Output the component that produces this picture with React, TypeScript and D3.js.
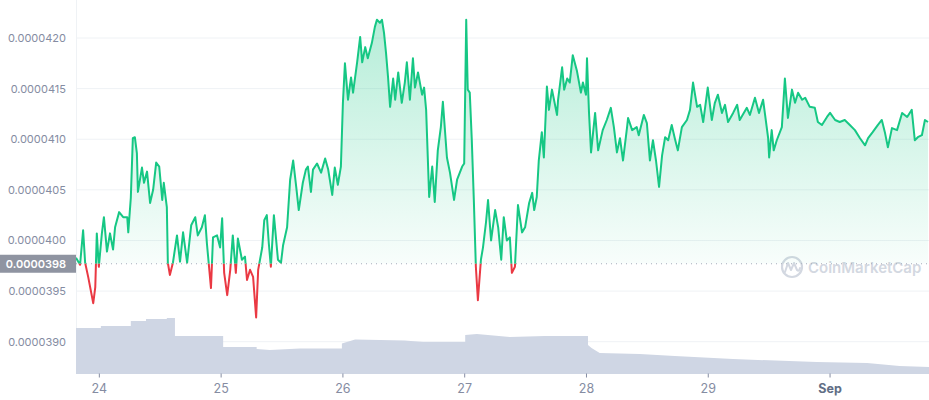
import React from 'react';
import * as d3 from 'd3';

// Hours since the "24" tick
const HOURS = [
  -4.6, -3.8, -3.2, -2.8, -2.2, -1.2, -0.8, -0.5, -0.1, 0.5, 0.9, 1.5, 2.1, 2.7, 3.1, 3.9, 4.7, 5.5, 5.7, 6.2,
  6.6, 7.0, 7.4, 7.6, 8.4, 8.8, 9.4, 10.0, 10.6, 11.2, 11.8, 12.4, 12.7, 13.3, 13.5, 13.9, 14.5, 15.3, 15.9, 16.5,
  17.3, 18.1, 18.9, 19.4, 20.2, 20.8, 21.2, 22.0, 22.4, 23.2, 23.8, 24.2, 24.6, 25.2, 25.8, 26.3, 26.9, 27.3, 28.1, 28.7,
  29.1, 29.7, 30.3, 30.9, 31.3, 32.1, 32.5, 33.0, 33.4, 33.8, 34.4, 35.2, 35.8, 36.2, 37.0, 37.6, 38.2, 38.8, 39.3, 40.1,
  40.7, 41.1, 41.7, 42.1, 42.9, 43.7, 44.5, 45.1, 45.9, 46.4, 47.0, 47.6, 48.0, 48.4, 49.0, 49.6, 50.0, 50.8, 51.4, 51.8,
  52.4, 52.9, 53.7, 54.3, 54.7, 55.3, 55.7, 56.1, 56.5, 56.9, 57.3, 57.9, 58.3, 58.9, 59.6, 60.2, 60.6, 61.2, 61.8, 62.2,
  62.8, 63.6, 64.0, 64.4, 65.0, 65.6, 66.1, 66.7, 67.3, 67.7, 68.5, 69.1, 69.9, 70.5, 71.5, 71.9, 72.3, 72.6, 73.0, 73.4,
  73.8, 74.2, 74.6, 75.2, 75.6, 76.2, 76.6, 77.2, 78.0, 78.6, 79.2, 79.7, 80.3, 80.9, 81.3, 81.9, 82.5, 83.3, 83.9, 84.7,
  85.3, 85.7, 86.2, 86.6, 87.2, 87.6, 88.2, 88.6, 89.2, 90.2, 90.4, 91.2, 91.6, 92.2, 92.7, 93.3, 94.1, 94.9, 95.3, 95.9,
  96.1, 96.5, 96.9, 97.7, 98.3, 99.2, 100.0, 100.8, 101.4, 102.0, 102.6, 103.2, 104.0, 104.2, 105.0, 105.9, 106.3, 107.3, 107.9, 108.5,
  109.1, 109.7, 110.3, 110.9, 111.5, 112.1, 112.8, 113.4, 114.0, 114.8, 115.8, 116.4, 117.0, 117.8, 118.4, 119.0, 119.9, 120.7, 121.3, 121.9,
  122.7, 123.3, 123.9, 124.9, 125.7, 126.2, 127.6, 128.2, 129.2, 130.0, 130.8, 131.2, 131.8, 132.0, 132.5, 132.9, 133.5, 134.5, 135.1, 135.7,
  136.5, 137.1, 137.7, 138.5, 139.1, 140.0, 141.0, 141.6, 142.4, 143.4, 144.0, 145.0, 145.9, 146.9, 147.9, 148.9, 149.9, 150.9, 151.5, 152.4,
  153.4, 154.2, 154.8, 155.4, 156.2, 157.2, 158.2, 159.2, 160.1, 160.7, 161.3, 162.1, 162.7, 163.3,
];

const PRICES = [
  398.3e-7, 397.6e-7, 401.0e-7, 397.8e-7, 396.4e-7, 393.8e-7, 395.4e-7, 400.7e-7, 397.4e-7, 400.7e-7, 402.3e-7, 398.9e-7, 400.7e-7, 399.1e-7, 401.3e-7, 402.8e-7, 402.3e-7, 402.3e-7, 400.8e-7, 404.2e-7,
  410.1e-7, 410.2e-7, 408.6e-7, 404.8e-7, 407.2e-7, 405.7e-7, 406.8e-7, 403.7e-7, 405.0e-7, 407.7e-7, 407.3e-7, 404.0e-7, 405.7e-7, 403.3e-7, 397.8e-7, 396.6e-7, 397.8e-7, 400.5e-7, 397.9e-7, 400.8e-7,
  397.8e-7, 401.5e-7, 402.3e-7, 400.5e-7, 401.3e-7, 402.5e-7, 399.7e-7, 395.3e-7, 400.3e-7, 400.5e-7, 399.3e-7, 402.2e-7, 396.8e-7, 394.6e-7, 397.1e-7, 400.5e-7, 396.8e-7, 400.2e-7, 398.1e-7, 398.4e-7,
  396.1e-7, 397.1e-7, 396.4e-7, 392.4e-7, 397.1e-7, 399.3e-7, 402.0e-7, 402.5e-7, 399.7e-7, 397.4e-7, 402.5e-7, 398.1e-7, 397.8e-7, 399.5e-7, 401.3e-7, 406.0e-7, 407.9e-7, 405.3e-7, 403.0e-7, 405.7e-7,
  407.0e-7, 407.3e-7, 404.8e-7, 407.0e-7, 407.6e-7, 406.7e-7, 408.1e-7, 407.0e-7, 404.5e-7, 407.2e-7, 405.5e-7, 407.3e-7, 413.6e-7, 417.5e-7, 413.9e-7, 416.1e-7, 414.6e-7, 417.6e-7, 420.1e-7, 417.6e-7,
  419.1e-7, 418.0e-7, 419.5e-7, 421.1e-7, 421.8e-7, 421.5e-7, 421.8e-7, 420.5e-7, 418.5e-7, 416.1e-7, 413.2e-7, 416.0e-7, 413.9e-7, 416.6e-7, 413.6e-7, 415.6e-7, 417.6e-7, 413.9e-7, 418.0e-7, 415.1e-7,
  416.6e-7, 414.4e-7, 415.1e-7, 412.9e-7, 404.3e-7, 407.3e-7, 403.8e-7, 408.9e-7, 411.2e-7, 413.7e-7, 408.2e-7, 406.7e-7, 404.0e-7, 406.0e-7, 407.3e-7, 407.6e-7, 421.8e-7, 414.9e-7, 414.6e-7, 409.9e-7,
  404.0e-7, 397.4e-7, 394.1e-7, 398.1e-7, 399.3e-7, 401.8e-7, 404.0e-7, 400.0e-7, 403.0e-7, 401.3e-7, 398.1e-7, 402.3e-7, 400.0e-7, 400.3e-7, 396.8e-7, 397.4e-7, 403.5e-7, 400.8e-7, 401.3e-7, 403.7e-7,
  404.7e-7, 403.0e-7, 404.3e-7, 407.9e-7, 410.7e-7, 408.2e-7, 415.2e-7, 412.9e-7, 414.9e-7, 412.4e-7, 413.9e-7, 417.1e-7, 414.9e-7, 416.0e-7, 415.6e-7, 418.3e-7, 416.8e-7, 414.6e-7, 415.6e-7, 414.4e-7,
  418.0e-7, 412.6e-7, 408.7e-7, 412.6e-7, 408.9e-7, 410.9e-7, 411.9e-7, 413.1e-7, 411.2e-7, 408.7e-7, 410.1e-7, 407.9e-7, 411.2e-7, 412.1e-7, 410.9e-7, 411.2e-7, 410.4e-7, 412.4e-7, 411.6e-7, 407.9e-7,
  409.9e-7, 407.9e-7, 405.3e-7, 408.4e-7, 410.2e-7, 409.9e-7, 411.4e-7, 410.1e-7, 408.9e-7, 411.2e-7, 411.9e-7, 412.9e-7, 415.6e-7, 413.2e-7, 413.4e-7, 411.7e-7, 415.1e-7, 411.9e-7, 413.6e-7, 414.4e-7,
  412.6e-7, 413.4e-7, 411.7e-7, 412.6e-7, 413.4e-7, 411.9e-7, 413.1e-7, 412.4e-7, 414.1e-7, 412.6e-7, 413.9e-7, 412.4e-7, 410.1e-7, 408.2e-7, 410.9e-7, 408.9e-7, 409.9e-7, 411.2e-7, 416.0e-7, 412.1e-7,
  414.9e-7, 413.6e-7, 414.6e-7, 413.9e-7, 414.1e-7, 413.2e-7, 413.1e-7, 411.7e-7, 411.4e-7, 412.2e-7, 412.6e-7, 411.9e-7, 411.7e-7, 411.9e-7, 411.4e-7, 410.9e-7, 410.1e-7, 409.4e-7, 410.1e-7, 410.7e-7,
  411.4e-7, 411.9e-7, 410.7e-7, 409.2e-7, 411.1e-7, 410.9e-7, 412.6e-7, 412.2e-7, 412.9e-7, 409.9e-7, 410.2e-7, 410.4e-7, 411.9e-7, 411.7e-7,
];

// Volume (millions), hours since the "24" tick
const VOL_HOURS = [
  -4.6, 0.3, 0.3, 6.2, 6.2, 9.2, 9.2, 13.3, 13.3, 14.9, 14.9, 24.4, 24.4, 31.0, 31.0, 33.6, 39.5, 47.8, 47.8, 50.4,
  60.2, 63.8, 72.1, 72.1, 74.4, 80.9, 87.8, 96.3, 96.3, 97.0, 98.6, 106.5, 113.4, 124.9, 141.4, 151.3, 157.7, 163.5,
];
const VOLUMES = [
  227, 227, 238, 238, 263, 263, 272, 272, 277, 277, 187, 187, 132, 132, 122, 117, 125, 125, 150, 170,
  165, 158, 158, 192, 197, 182, 187, 187, 142, 127, 102, 97, 87, 72, 58, 52, 37, 33,
];

const Y_TICKS = [0.000039, 0.0000395, 0.00004, 0.0000405, 0.000041, 0.0000415, 0.000042];
const X_TICK_HOURS = [0, 24, 48, 72, 96, 120, 144];
const X_TICK_LABELS = ['24', '25', '26', '27', '28', '29', 'Sep'];
const BASELINE = 0.00003977;

const GREEN = '#16c784';
const RED = '#ea3943';
const FONT = 'Inter, "Noto Sans", sans-serif';

export default function App() {
  const W = 929;
  const H = 400;
  const left = 76;
  const right = 929;
  const axisY = 373.5;

  const x = d3.scaleLinear().domain([-4.6, 163.5]).range([left, right]);
  const y = d3.scaleLinear().domain([0.000039, 0.000042]).range([341.7, 38]);
  const yv = d3.scaleLinear().domain([0, 300]).range([axisY, axisY - 60]);

  const data = HOURS.map((h, i) => ({ h, p: PRICES[i] }));
  const vol = VOL_HOURS.map((h, i) => ({ h, v: VOLUMES[i] }));
  const baseY = y(BASELINE);

  const line = d3.line<{ h: number; p: number }>().x((d) => x(d.h)).y((d) => y(d.p));
  const area = d3
    .area<{ h: number; p: number }>()
    .x((d) => x(d.h))
    .y0(baseY)
    .y1((d) => y(d.p));
  const volArea = d3
    .area<{ h: number; v: number }>()
    .x((d) => x(d.h))
    .y0(axisY)
    .y1((d) => yv(d.v));

  const linePath = line(data) || '';
  const areaPath = area(data) || '';

  return (
    <svg
      width={W}
      height={H}
      style={{ position: 'absolute', left: 0, top: 0, background: '#fff' }}
      fontFamily={FONT}
    >
      <defs>
        <linearGradient id="gFill" gradientUnits="userSpaceOnUse" x1="0" x2="0" y1={y(0.0000422)} y2={baseY}>
          <stop offset="0" stopColor={GREEN} stopOpacity={0.32} />
          <stop offset="1" stopColor={GREEN} stopOpacity={0.03} />
        </linearGradient>
        <clipPath id="above">
          <rect x={left} y={0} width={right - left} height={baseY} />
        </clipPath>
        <clipPath id="below">
          <rect x={left} y={baseY} width={right - left} height={H - baseY} />
        </clipPath>
      </defs>

      {/* gridlines */}
      {Y_TICKS.map((t) => (
        <line key={t} x1={left} x2={right} y1={y(t)} y2={y(t)} stroke="#eff2f5" strokeWidth={1} />
      ))}
      {/* left axis line */}
      <line x1={left + 0.5} x2={left + 0.5} y1={0} y2={axisY} stroke="#eff2f5" strokeWidth={1} />

      {/* y labels */}
      {Y_TICKS.map((t) => (
        <text
          key={'l' + t}
          x={66}
          y={y(t)}
          textAnchor="end"
          dominantBaseline="central"
          fontSize={11}
          fill="#858ca2"
        >
          {t.toFixed(7)}
        </text>
      ))}

      {/* watermark */}
      <g>
        <circle cx={792} cy={267} r={10} fill="none" stroke="#d3d8e1" strokeWidth={2.2} />
        <path
          d="M785,272 L788,263 L791,270 L794,263 L797,270 Q799,272 800,268"
          fill="none"
          stroke="#d3d8e1"
          strokeWidth={2}
          strokeLinejoin="round"
          strokeLinecap="round"
        />
        <text x={808} y={273} fontSize={15} fill="#d3d8e1" fontWeight={600}>
          CoinMarketCap
        </text>
      </g>

      {/* volume */}
      <path d={volArea(vol) || ''} fill="#cfd6e4" />

      {/* price fill */}
      <path d={areaPath} fill="url(#gFill)" clipPath="url(#above)" />

      {/* baseline */}
      <line
        x1={left}
        x2={right}
        y1={baseY}
        y2={baseY}
        stroke="#a6adbb"
        strokeWidth={1}
        strokeDasharray="1 4"
      />

      {/* price line */}
      <path
        d={linePath}
        fill="none"
        stroke={GREEN}
        strokeWidth={2}
        strokeLinejoin="round"
        clipPath="url(#above)"
      />
      <path
        d={linePath}
        fill="none"
        stroke={RED}
        strokeWidth={2}
        strokeLinejoin="round"
        clipPath="url(#below)"
      />

      {/* baseline label */}
      <rect x={0} y={baseY - 9} width={left} height={18} fill="#8f94a1" />
      <text
        x={66}
        y={baseY}
        textAnchor="end"
        dominantBaseline="central"
        fontSize={11}
        fontWeight={600}
        fill="#ffffff"
      >
        {BASELINE.toFixed(7)}
      </text>

      {/* x axis */}
      <line x1={left} x2={right} y1={axisY} y2={axisY} stroke="#cfd6e4" strokeWidth={1} />
      {X_TICK_HOURS.map((h, i) => (
        <g key={h} transform={`translate(${x(h)},0)`}>
          <line y1={axisY} y2={axisY + 4} stroke="#858ca2" strokeWidth={1} />
          <text
            y={388}
            textAnchor="middle"
            dominantBaseline="central"
            fontSize={12.5}
            fill={X_TICK_LABELS[i] === 'Sep' ? '#616e85' : '#858ca2'}
            fontWeight={X_TICK_LABELS[i] === 'Sep' ? 700 : 400}
          >
            {X_TICK_LABELS[i]}
          </text>
        </g>
      ))}
    </svg>
  );
}
